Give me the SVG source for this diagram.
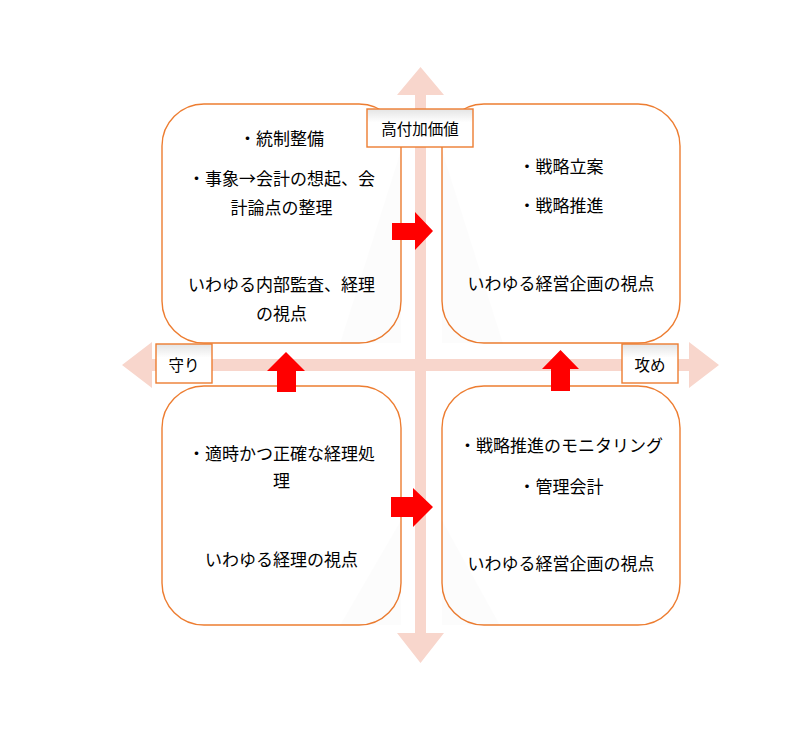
<svg xmlns="http://www.w3.org/2000/svg" width="800" height="734" viewBox="0 0 800 734">
<defs>
<style>
.box{fill:#ffffff;stroke:#ed7d31;stroke-width:1.4}
.lbl{fill:url(#lg);stroke:#ed7d31;stroke-width:1.4}
.t{font-family:"Noto Sans CJK JP","Noto Sans",sans-serif;font-size:17px;fill:#000;text-anchor:middle;dominant-baseline:central}
.lt{font-family:"Noto Sans CJK JP","Noto Sans",sans-serif;font-size:15.5px;fill:#000;text-anchor:middle;dominant-baseline:central}
.axis{fill:#f8d6cc}
.red{fill:#ff0000}
.shade{fill:#000;opacity:0.012}
</style>
<linearGradient id="lg" x1="0" y1="0" x2="0" y2="1">
<stop offset="0" stop-color="#e4e4e4"/>
<stop offset="0.35" stop-color="#ffffff"/>
<stop offset="1" stop-color="#ffffff"/>
</linearGradient>
</defs>
<rect width="800" height="734" fill="#ffffff"/>
<g id="axes">
<path class="axis" d="M415,95 L397,95 L420.5,67 L444,95 L426,95 L426,359 L689,359 L689,342 L719,365 L689,388 L689,371 L426,371 L426,633 L444,633 L420.5,663 L397,633 L415,633 L415,371 L152,371 L152,388 L122,365 L152,342 L152,359 L415,359 Z"/>
</g>
<g id="box-tl">
<rect class="box" x="162" y="104" width="239" height="239" rx="42"/>
<polygon class="shade" points="401,150 401,343 340,343"/>
<text class="t" x="281.5" y="137">・統制整備</text>
<text class="t" x="281.5" y="177">・事象→会計の想起、会</text>
<text class="t" x="281.5" y="206">計論点の整理</text>
<text class="t" x="281.5" y="283">いわゆる内部監査、経理</text>
<text class="t" x="281.5" y="312">の視点</text>
</g>
<g id="box-tr">
<rect class="box" x="442" y="104" width="238" height="239" rx="42"/>
<polygon class="shade" points="442,150 442,343 503,343"/>
<text class="t" x="561" y="165">・戦略立案</text>
<text class="t" x="561" y="204">・戦略推進</text>
<text class="t" x="561" y="282">いわゆる経営企画の視点</text>
</g>
<g id="box-bl">
<rect class="box" x="162" y="386" width="239" height="239" rx="42"/>
<polygon class="shade" points="401,520 401,625 340,625"/>
<text class="t" x="281.5" y="452">・適時かつ正確な経理処</text>
<text class="t" x="281.5" y="479">理</text>
<text class="t" x="281.5" y="558">いわゆる経理の視点</text>
</g>
<g id="box-br">
<rect class="box" x="442" y="386" width="238" height="239" rx="42"/>
<polygon class="shade" points="442,520 442,625 500,625"/>
<text class="t" x="561" y="444">・戦略推進のモニタリング</text>
<text class="t" x="561" y="485">・管理会計</text>
<text class="t" x="561" y="562">いわゆる経営企画の視点</text>
</g>
<g id="label-high">
<rect class="lbl" x="367" y="109" width="106" height="38"/>
<text class="lt" x="420" y="128">高付加価値</text>
</g>
<g id="label-defense">
<rect class="lbl" x="156" y="344" width="56" height="39"/>
<text class="lt" x="184" y="364">守り</text>
</g>
<g id="label-offense">
<rect class="lbl" x="622" y="344" width="56" height="39"/>
<text class="lt" x="650" y="364">攻め</text>
</g>
<g id="connectors">
<polygon class="red" points="392,223 415,223 415,212 433,231 415,250 415,240 392,240"/>
<polygon class="red" points="391,497 413,497 413,488 433,507 413,527 413,517 391,517"/>
<polygon class="red" points="277,392 277,371 267,371 286,352 305,371 296,371 296,392"/>
<polygon class="red" points="551,391 551,369 542,369 560.5,350 579,369 570,369 570,391"/>
</g>
</svg>
